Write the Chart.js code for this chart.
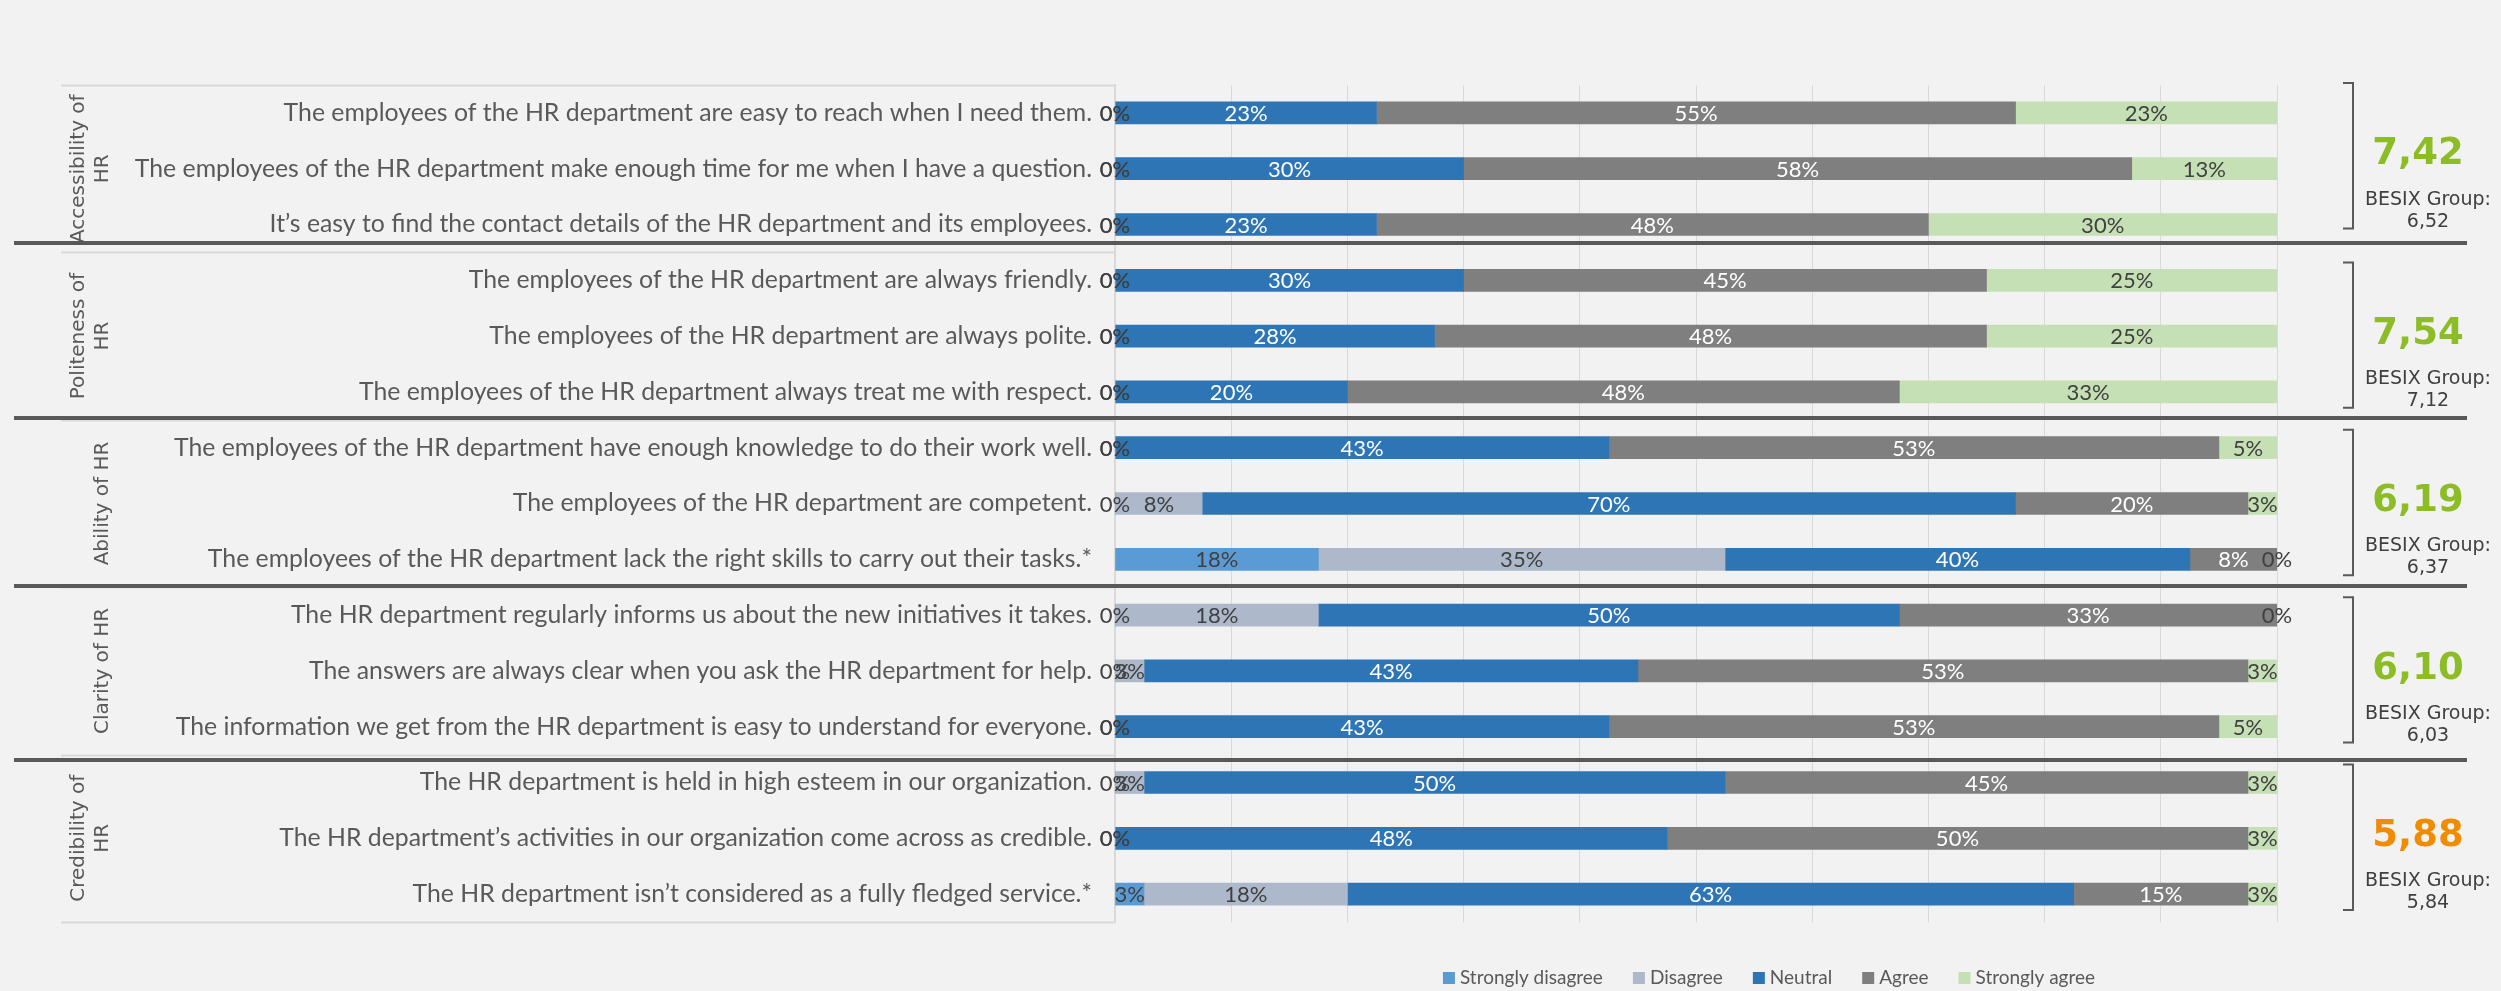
<!DOCTYPE html>
<html>
<head>
<meta charset="utf-8">
<script src="https://cdn.jsdelivr.net/npm/chart.js@4.4.1/dist/chart.umd.min.js"></script>
<style>
  html, body { margin: 0; padding: 0; background: #f2f2f2; }
  #wrap { width: 2501px; height: 991px; }
</style>
</head>
<body>
<div id="wrap"><canvas id="chart" width="2501" height="991"></canvas></div>
<script>
// statements, top to bottom
const statements = [
  "The employees of the HR department are easy to reach when I need them.",
  "The employees of the HR department make enough time for me when I have a question.",
  "It\u2019s easy to find the contact details of the HR department and its employees.",
  "The employees of the HR department are always friendly.",
  "The employees of the HR department are always polite.",
  "The employees of the HR department always treat me with respect.",
  "The employees of the HR department have enough knowledge to do their work well.",
  "The employees of the HR department are competent.",
  "The employees of the HR department lack the right skills to carry out their tasks.*",
  "The HR department regularly informs us about the new initiatives it takes.",
  "The answers are always clear when you ask the HR department for help.",
  "The information we get from the HR department is easy to understand for everyone.",
  "The HR department is held in high esteem in our organization.",
  "The HR department\u2019s activities in our organization come across as credible.",
  "The HR department isn\u2019t considered as a fully fledged service.*"
];

// groups of 3 statements
const groupNames = [["Accessibility of", "HR"], ["Politeness of", "HR"], ["Ability of HR"], ["Clarity of HR"], ["Credibility of", "HR"]];
const groupSize = 3;
const groupScores = ["7,42", "7,54", "6,19", "6,10", "5,88"];
const besixScores = ["6,52", "7,12", "6,37", "6,03", "5,84"];

// answer shares in %
const seriesNames = ["Strongly disagree", "Disagree", "Neutral", "Agree", "Strongly agree"];
const stronglyDisagree = [0, 0, 0, 0, 0, 0, 0, 0, 17.5, 0, 0, 0, 0, 0, 2.5];
const disagree         = [0, 0, 0, 0, 0, 0, 0, 7.5, 35, 17.5, 2.5, 0, 2.5, 0, 17.5];
const neutral          = [22.5, 30, 22.5, 30, 27.5, 20, 42.5, 70, 40, 50, 42.5, 42.5, 50, 47.5, 62.5];
const agree            = [55, 57.5, 47.5, 45, 47.5, 47.5, 52.5, 20, 7.5, 32.5, 52.5, 52.5, 45, 50, 15];
const stronglyAgree    = [22.5, 12.5, 30, 25, 25, 32.5, 5, 2.5, 0, 0, 2.5, 5, 2.5, 2.5, 2.5];

const colors = ["#5b9bd5", "#adb9ca", "#2e75b6", "#7f7f7f", "#c5e0b4"];
const labelColors = ["#404040", "#404040", "#ffffff", "#ffffff", "#404040"];
const seriesData = [stronglyDisagree, disagree, neutral, agree, stronglyAgree];

const TEXT = "#595959";
const GRID = "#d9d9d9";
const SANS = "Lato, 'Open Sans', sans-serif";
const VERD = "'DejaVu Sans', Verdana, sans-serif";

// the hand-drawn separators in the original sit a little off the group edges
const separatorNudge = [-9, -2, -1, 5];

// percentage labels centred in each segment
const segmentLabels = {
  id: "segmentLabels",
  afterDatasetsDraw(chart) {
    const ctx = chart.ctx;
    ctx.save();
    ctx.font = "22px " + SANS;
    ctx.textAlign = "center";
    ctx.textBaseline = "middle";
    chart.data.datasets.forEach((ds, i) => {
      chart.getDatasetMeta(i).data.forEach((bar, j) => {
        ctx.fillStyle = labelColors[i];
        ctx.fillText(Math.round(ds.data[j]) + "%", (bar.x + bar.base) / 2, bar.y + 1);
      });
    });
    ctx.restore();
  }
};

// group boxes, separators, group titles, brackets and scores
const groupDecor = {
  id: "groupDecor",
  afterDraw(chart) {
    const ctx = chart.ctx;
    const area = chart.chartArea;
    const band = (area.bottom - area.top) / statements.length;
    const nGroups = groupNames.length;
    ctx.save();

    // thin lines of the label box
    ctx.strokeStyle = GRID;
    ctx.lineWidth = 2;
    for (let g = 0; g <= nGroups; g++) {
      const y = Math.round(area.top + g * groupSize * band) + 0.5;
      ctx.beginPath();
      ctx.moveTo(61, y);
      ctx.lineTo(area.left, y);
      ctx.stroke();
    }

    // thick separators
    ctx.strokeStyle = "#595959";
    ctx.lineWidth = 4;
    for (let g = 1; g < nGroups; g++) {
      const y = Math.round(area.top + g * groupSize * band) + separatorNudge[g - 1];
      ctx.beginPath();
      ctx.moveTo(14, y);
      ctx.lineTo(2467, y);
      ctx.stroke();
    }

    for (let g = 0; g < nGroups; g++) {
      const top = area.top + g * groupSize * band;
      const bottom = top + groupSize * band;
      const mid = (top + bottom) / 2;

      // rotated group title
      ctx.save();
      ctx.fillStyle = TEXT;
      ctx.font = "20px " + VERD;
      ctx.textAlign = "center";
      ctx.textBaseline = "middle";
      const lines = groupNames[g];
      lines.forEach((line, k) => {
        const x = 103 - (lines.length - 1 - k) * 24;
        ctx.save();
        ctx.translate(x, mid);
        ctx.rotate(-Math.PI / 2);
        ctx.fillText(line, 0, 0);
        ctx.restore();
      });
      ctx.restore();

      // bracket
      const shift = g === 0 ? -12 : 0;
      ctx.strokeStyle = "#595959";
      ctx.lineWidth = 2;
      ctx.beginPath();
      ctx.moveTo(2343, top + 10 + shift);
      ctx.lineTo(2353, top + 10 + shift);
      ctx.lineTo(2353, bottom - 12 + shift);
      ctx.lineTo(2343, bottom - 12 + shift);
      ctx.stroke();

      // score
      const cy = mid + shift;
      const val = parseFloat(groupScores[g].replace(",", "."));
      ctx.fillStyle = val >= 6 ? "#8cbd26" : "#ef8c00";
      ctx.font = "bold 37px " + VERD;
      ctx.textAlign = "center";
      ctx.textBaseline = "middle";
      ctx.fillText(groupScores[g], 2418, cy - 2);
      ctx.fillStyle = "#404040";
      ctx.font = "19px " + VERD;
      ctx.fillText("BESIX Group:", 2428, cy + 43);
      ctx.fillText(besixScores[g], 2428, cy + 65);
    }
    ctx.restore();
  }
};

// legend under the plot
const bottomLegend = {
  id: "bottomLegend",
  afterDraw(chart) {
    const ctx = chart.ctx;
    const centerX = 1769, y = 978;
    ctx.save();
    ctx.font = "19px " + SANS;
    ctx.textBaseline = "middle";
    const items = chart.data.datasets.map(d => ({ text: d.label, color: d.backgroundColor, w: ctx.measureText(d.label).width }));
    const box = 12, gap = 5, spacing = 30;
    const total = items.reduce((s, it) => s + box + gap + it.w, 0) + spacing * (items.length - 1);
    let x = centerX - total / 2;
    items.forEach(it => {
      ctx.fillStyle = it.color;
      ctx.fillRect(x, y - box / 2, box, box);
      ctx.fillStyle = TEXT;
      ctx.fillText(it.text, x + box + gap, y);
      x += box + gap + it.w + spacing;
    });
    ctx.restore();
  }
};

function draw() {
  new Chart(document.getElementById("chart"), {
    type: "bar",
    data: {
      labels: statements,
      datasets: seriesNames.map((name, i) => ({
        label: name,
        data: seriesData[i],
        backgroundColor: colors[i],
        borderWidth: 0,
        barThickness: 22
      }))
    },
    options: {
      indexAxis: "y",
      responsive: false,
      animation: false,
      devicePixelRatio: 1,
      layout: { padding: { left: 0, right: 224, top: 85, bottom: 69 } },
      scales: {
        x: {
          stacked: true,
          min: 0,
          max: 100,
          ticks: { display: false, stepSize: 10 },
          grid: { color: GRID, drawTicks: false },
          border: { display: false },
          afterFit(s) { s.height = 0; }
        },
        y: {
          stacked: true,
          grid: { display: false, drawTicks: false },
          border: { color: GRID, width: 2 },
          ticks: { color: TEXT, font: { family: SANS, size: 24.8 }, padding: 23, autoSkip: false },
          afterFit(s) { s.width = 1115; }
        }
      },
      plugins: {
        legend: { display: false },
        tooltip: { enabled: false }
      }
    },
    plugins: [segmentLabels, groupDecor, bottomLegend]
  });
}

Promise.all([
  document.fonts.load("20px Lato"),
  document.fonts.load("20px 'DejaVu Sans'"),
  document.fonts.load("bold 20px 'DejaVu Sans'")
]).then(draw, draw);
</script>
</body>
</html>
